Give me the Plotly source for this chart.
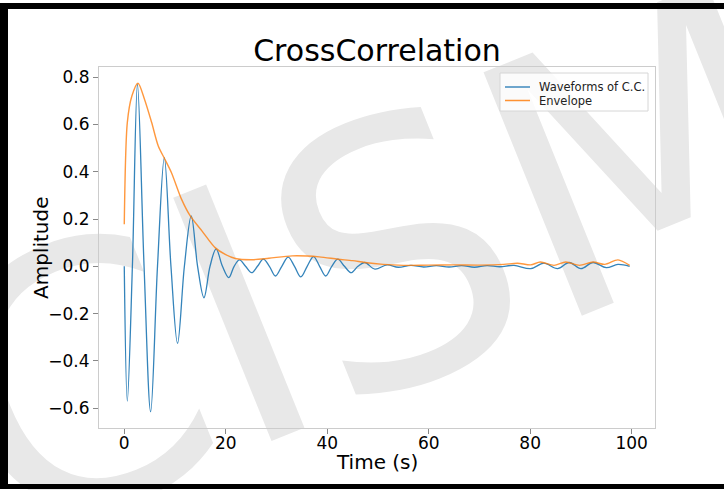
import plotly.graph_objects as go

# Cross-correlation waveform (time in s, amplitude)
wave_t = [0.0, 0.6, 1.6, 2.6, 3.9, 5.2, 6.55, 7.9, 9.2, 10.5, 11.85, 13.2, 14.45,
          15.7, 16.9, 18.1, 19.35, 20.6, 21.65, 22.7, 23.9, 25.1, 26.25, 27.4,
          28.6, 29.8, 31.05, 32.3, 33.55, 34.8, 36.05, 37.3, 38.5, 39.7, 40.9,
          42.1, 43.4, 44.7, 46.05, 47.4, 49.4, 51.8, 54.0, 56.5, 59.0, 61.5,
          64.0, 66.5, 69.0, 71.5, 74.0, 76.8, 80.1, 82.7, 85.4, 87.7, 90.0,
          92.4, 95.0, 97.3, 99.6]
wave_v = [0.0, -0.57, 0.0, 0.77, 0.0, -0.615, 0.0, 0.46, 0.0, -0.326, 0.0, 0.213,
          0.0, -0.133, 0.0, 0.074, 0.0, -0.048, 0.0, 0.027, 0.0, -0.027, 0.0,
          0.030, 0.0, -0.041, 0.0, 0.039, 0.0, -0.045, 0.0, 0.041, 0.0, -0.041,
          0.0, 0.030, 0.0, -0.027, 0.0, 0.016, -0.012, 0.006, -0.004, 0.004,
          -0.003, 0.003, -0.003, 0.003, -0.004, 0.003, -0.002, 0.004, -0.010,
          0.013, -0.010, 0.016, -0.010, 0.016, -0.006, 0.008, 0.0]

# Envelope of the cross-correlation
env_t = [0.0, 0.6, 1.5, 2.7, 4.0, 5.4, 6.7, 8.0, 9.3, 11.3, 13.0, 15.3, 17.9,
         19.9, 21.9, 25.2, 28.5, 33.1, 38.4, 42.1, 45.0, 47.4, 51.0, 55.0,
         60.0, 65.0, 70.0, 74.8, 77.5, 80.1, 82.0, 84.7, 87.0, 89.7, 92.4,
         94.7, 97.3, 99.6]
env_v = [0.178, 0.608, 0.72, 0.774, 0.706, 0.608, 0.509, 0.453, 0.396, 0.283,
         0.213, 0.150, 0.079, 0.050, 0.033, 0.028, 0.034, 0.044, 0.040, 0.030,
         0.024, 0.016, 0.008, 0.004, 0.005, 0.006, 0.005, 0.008, 0.013, 0.006,
         0.018, 0.004, 0.018, 0.004, 0.018, 0.008, 0.027, 0.004]

x_ticks = [0, 20, 40, 60, 80, 100]
y_ticks = [-0.6, -0.4, -0.2, 0.0, 0.2, 0.4, 0.6, 0.8]
series_names = ["Waveforms of C.C.", "Envelope"]
colors = ["#1f77b4", "#ff7f0e"]

FONT = "DejaVu Sans"
W, H = 724, 490
ML, MR, MT, MB = 99, 69, 67, 62
PW, PH = W - ML - MR, H - MT - MB


def px(x):
    return (x - ML) / PW


def py(y):
    return (H - MB - y) / PH


fig = go.Figure()
fig.add_trace(go.Scatter(x=wave_t, y=wave_v, mode="lines", name=series_names[0],
                         line=dict(color=colors[0], width=1.3, shape="spline", smoothing=1.0),
                         opacity=0.9, showlegend=False))
fig.add_trace(go.Scatter(x=env_t, y=env_v, mode="lines", name=series_names[1],
                         line=dict(color=colors[1], width=1.4, shape="spline", smoothing=0.8),
                         opacity=0.8, showlegend=False))

shapes = []
# watermark behind everything
shapes.append(dict(type="rect", xref="paper", yref="paper",
                   x0=px(364), x1=px(366), y0=py(242), y1=py(240),
                   line=dict(width=0), fillcolor="rgba(0,0,0,0)", layer="below",
                   label=dict(text="CISM", textangle=-22, textposition="middle center",
                              font=dict(family=FONT, size=360, color="#e8e8e8"))))
# black frame
for (x0, x1, y0, y1) in [(0, 724, 3, 9), (0, 8, 3, 489), (0, 724, 484, 489)]:
    shapes.append(dict(type="rect", xref="paper", yref="paper",
                       x0=px(x0), x1=px(x1), y0=py(y1), y1=py(y0),
                       line=dict(width=0), fillcolor="black", layer="above"))
# legend box
shapes.append(dict(type="rect", xref="paper", yref="paper",
                   x0=px(500), x1=px(648), y0=py(111), y1=py(73),
                   line=dict(width=1, color="#d6d6d6"), fillcolor="rgba(255,255,255,0.8)",
                   layer="above"))
annotations = []
for i, (name, col) in enumerate(zip(series_names, colors)):
    yy = 87 + i * 13.5
    shapes.append(dict(type="line", xref="paper", yref="paper",
                       x0=px(505), x1=px(530), y0=py(yy), y1=py(yy),
                       line=dict(color=col, width=1.5), layer="above", opacity=0.85))
    annotations.append(dict(xref="paper", yref="paper", x=px(537), y=py(yy),
                            xanchor="left", yanchor="middle", text=name, showarrow=False,
                            font=dict(family=FONT, size=11.5, color="#222")))

# axis titles
annotations.append(dict(xref="paper", yref="paper", x=px(377), y=py(462),
                        xanchor="center", yanchor="middle", text="Time (s)", showarrow=False,
                        font=dict(family=FONT, size=20, color="black")))
annotations.append(dict(xref="paper", yref="paper", x=px(41), y=py(248),
                        xanchor="center", yanchor="middle", text="Amplitude", showarrow=False,
                        textangle=-90, font=dict(family=FONT, size=20, color="black")))

fig.update_layout(
    width=W, height=H,
    margin=dict(l=ML, r=MR, t=MT, b=MB, autoexpand=False),
    paper_bgcolor="white", plot_bgcolor="rgba(0,0,0,0)",
    font=dict(family=FONT, color="black"),
    title=dict(text="CrossCorrelation", x=px(377), xref="paper", xanchor="center",
               y=1 - 50 / H, yref="container", yanchor="middle",
               font=dict(family=FONT, size=30, color="black")),
    shapes=shapes, annotations=annotations,
    showlegend=False,
)
fig.update_xaxes(range=[-4.98, 104.6], tickvals=x_ticks, ticktext=[str(v) for v in x_ticks],
                 showgrid=False, zeroline=False, showline=True, mirror=True,
                 linecolor="#cccccc", linewidth=1, ticks="outside", ticklen=5,
                 ticklabelstandoff=-5,
                 tickcolor="#888888", tickfont=dict(size=17, family=FONT))
fig.update_yaxes(range=[-0.684, 0.843], tickvals=y_ticks,
                 ticktext=[f"{v:.1f}".replace("-", "\u2212") for v in y_ticks],
                 showgrid=False, zeroline=False, showline=True, mirror=True,
                 linecolor="#cccccc", linewidth=1, ticks="outside", ticklen=5,
                 tickcolor="#888888", tickfont=dict(size=17, family=FONT))

fig.write_html("out.html")
